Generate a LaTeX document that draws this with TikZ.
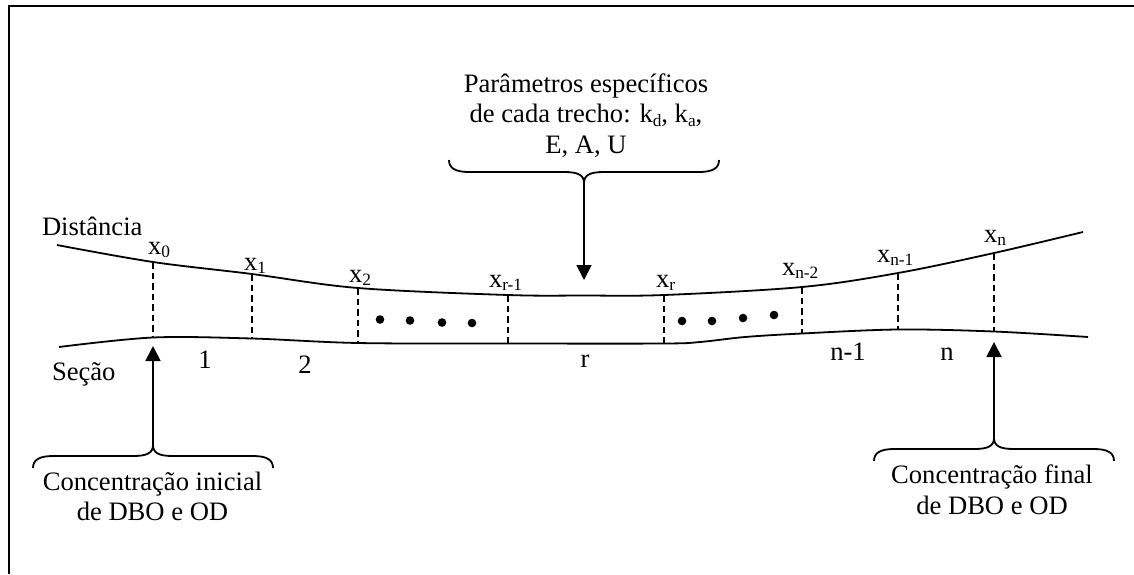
\documentclass[tikz,border=0pt]{standalone}
\usepackage{fontspec}
\setmainfont{Liberation Serif}
\usetikzlibrary{arrows.meta}

% subscript set smaller and lowered, as in the index labels
\newcommand\lowidx[1]{\raisebox{-3.5pt}{\fontsize{17.3}{18}\selectfont #1}}

\tikzset{
  every node/.style={inner sep=0pt, outer sep=0pt, font=\fontsize{26.6}{30.6}\selectfont},
  frameline/.style={line width=2pt},
  riverline/.style={line width=1.8pt},
  divline/.style={line width=1.5pt, dash pattern=on 6.5pt off 4pt},
  pointer/.style={line width=1.8pt, -{Triangle[width=15pt,length=15pt]}},
  blob/.style={fill=black},
  txt/.style={anchor=base, align=center},
  pics/curlybrace/.style={code={
    \draw[line width=1.8pt]
      (-#1,-23) .. controls (-#1,-15) and (-#1+6,-11) .. (-#1+20,-11)
      -- (-20,-11) .. controls (-6,-11) and (0,-8) .. (0,0)
      .. controls (0,-8) and (6,-11) .. (20,-11)
      -- (#1-20,-11) .. controls (#1-6,-11) and (#1,-15) .. (#1,-23);
  }}
}

\begin{document}
\begin{tikzpicture}[x=1pt, y=-1pt]
\useasboundingbox (0,0) rectangle (1134,574);

% outer frame (top and left edges)
\draw[frameline] (9,574) -- (9,5.8) -- (1134,5.8);

% upper bank
\draw[riverline] plot[smooth, tension=0.55] coordinates {
  (57,245) (153,262) (252,274) (358,288) (508,295) (584,295.5) (664,295)
  (802,287) (898,273) (994,253) (1083,232)};
% lower bank
\draw[riverline] plot[smooth, tension=0.55] coordinates {
  (59,347) (153,337.5) (252,338.5) (358,343) (508,343.5) (664,343.5)
  (700,342) (745,337) (802,333.5) (898,329.5) (994,331.5) (1088,337)};

% cross sections on the banks
\coordinate (t0) at (153,262);   \coordinate (b0) at (153,337.5);
\coordinate (t1) at (252,274);   \coordinate (b1) at (252,338.5);
\coordinate (t2) at (358,288);   \coordinate (b2) at (358,343);
\coordinate (tr1) at (508,295);  \coordinate (br1) at (508,343.5);
\coordinate (tr) at (664,295);   \coordinate (br) at (664,343.5);
\coordinate (tn2) at (802,287);  \coordinate (bn2) at (802,333.5);
\coordinate (tn1) at (898,273);  \coordinate (bn1) at (898,329.5);
\coordinate (tn) at (994,253);   \coordinate (bn) at (994,331.5);
\foreach \s in {0,1,2,r1,r,n2,n1,n}
  \draw[divline] (t\s) -- (b\s);

% section positions
\node[anchor=base west] (lx0) at (148,254) {x\lowidx{0}};
\node[anchor=base west] (lx1) at (244,270) {x\lowidx{1}};
\node[anchor=base west] (lx2) at (349,282) {x\lowidx{2}};
\node[anchor=base west] (lxr1) at (489,287) {x\lowidx{r-1}};
\node[anchor=base west] (lxr) at (656,287) {x\lowidx{r}};
\node[anchor=base west] (lxn2) at (782,275) {x\lowidx{n-2}};
\node[anchor=base west] (lxn1) at (877,262) {x\lowidx{n-1}};
\node[anchor=base west] (lxn) at (984,242) {x\lowidx{n}};

% reach numbers
\node[anchor=base] (s1) at (205,368) {1};
\node[anchor=base] (s2) at (305,373) {2};
\node[anchor=base] (sr) at (585,367) {r};
\node[anchor=base] (sn1) at (848,360) {n-1};
\node[anchor=base] (sn) at (947,360) {n};

% axis names
\node[anchor=base west] (dist) at (42,235) {Distância};
\node[anchor=base west] (secao) at (52,380) {Seção};

% ellipsis dots
\foreach \px/\py in {380/319.5, 410/320.5, 442/322.5, 472/323,
                     682/321, 712/321, 743/318, 774/315}
  \fill[blob] (\px,\py) circle (4.3);

% parameters of each reach (base anchor sits on the last line)
\node[txt] (param) at (586,153.2)
  {Parâmetros específicos\\de cada trecho: k\lowidx{d}, k\lowidx{a},\\E, A, U};
\pic at (584,183) {curlybrace=135};
\coordinate (ptip) at (584,183);
\coordinate (pend) at (584,280);
\draw[pointer] (ptip) -- (pend);

% initial concentration
\node[txt] (ini) at (152.5,520.6) {Concentração inicial\\de DBO e OD};
\pic[yscale=-1] at (153,445) {curlybrace=120};
\coordinate (itip) at (153,445);
\coordinate (iend) at (153,346);
\draw[pointer] (itip) -- (iend);

% final concentration
\node[txt] (fin) at (992,514) {Concentração final\\de DBO e OD};
\pic[yscale=-1] at (994,438) {curlybrace=120};
\coordinate (ftip) at (994,438);
\coordinate (fend) at (994,342);
\draw[pointer] (ftip) -- (fend);
\end{tikzpicture}
\end{document}
